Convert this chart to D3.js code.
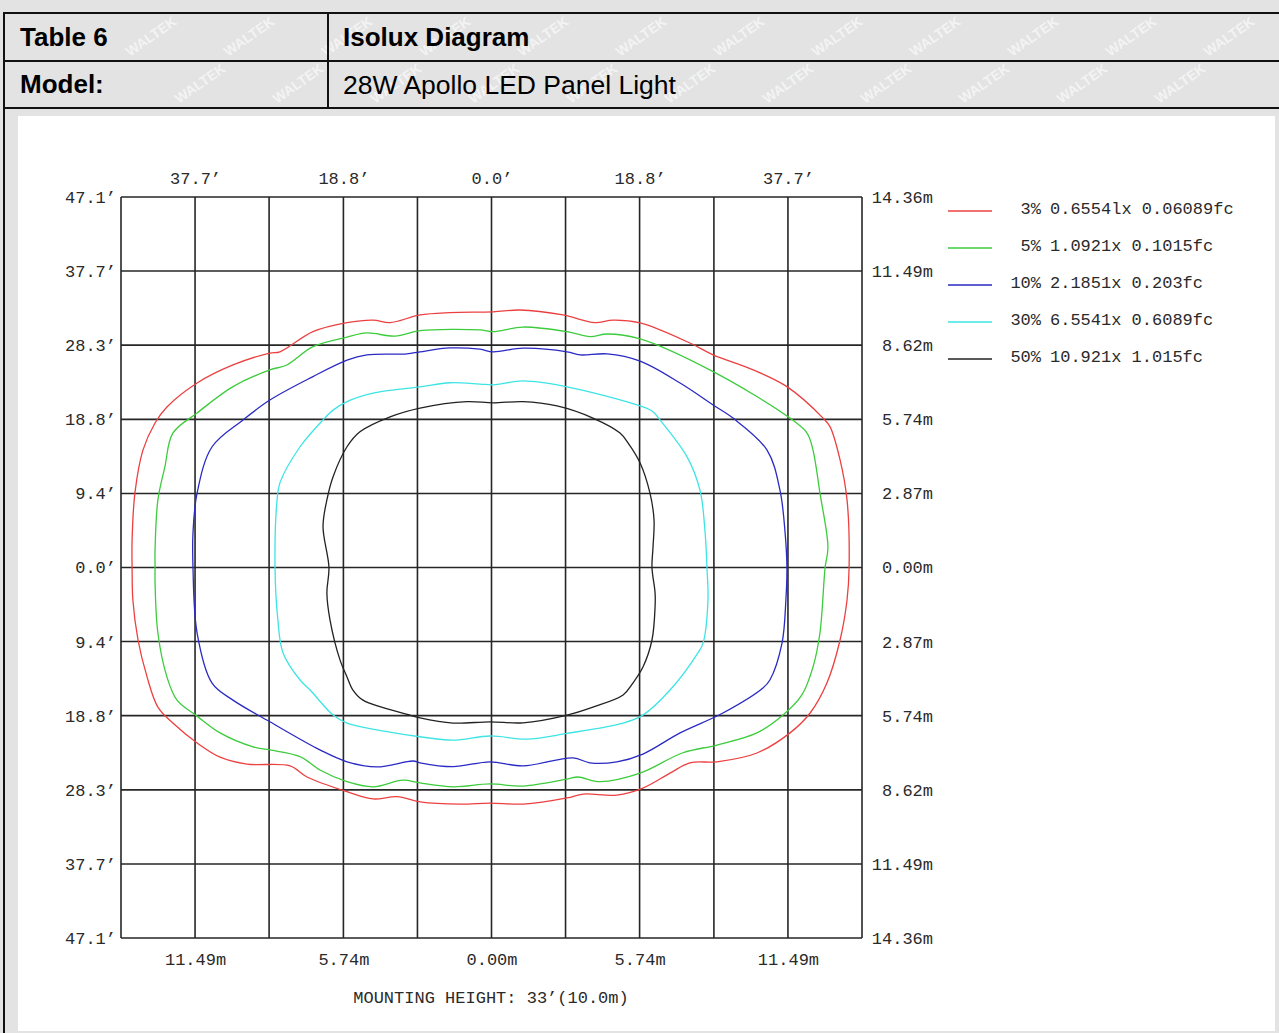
<!DOCTYPE html>
<html>
<head>
<meta charset="utf-8">
<script src="https://cdn.jsdelivr.net/npm/d3@7"></script>
<style>
  body { margin: 0; background: #e3e3e3; }
  svg { display: block; }
</style>
</head>
<body>
<script>
// ---- data (metres, origin under the luminaire, y up) ----
var metreTicks = [-14.36, -11.49, -8.62, -5.74, -2.87, 0, 2.87, 5.74, 8.62, 11.49, 14.36];
var footLabels = ["47.1’", "37.7’", "28.3’", "18.8’", "9.4’", "0.0’", "9.4’", "18.8’", "28.3’", "37.7’", "47.1’"];
var metreLabels = ["14.36m", "11.49m", "8.62m", "5.74m", "2.87m", "0.00m", "2.87m", "5.74m", "8.62m", "11.49m", "14.36m"];
var topTicks = [-11.49, -5.74, 0, 5.74, 11.49];
var topLabels = ["37.7’", "18.8’", "0.0’", "18.8’", "37.7’"];
var bottomLabels = ["11.49m", "5.74m", "0.00m", "5.74m", "11.49m"];

var legendPct = ["3%", "5%", "10%", "30%", "50%"];
var legendLx = ["0.6554lx", "1.0921x", "2.1851x", "6.5541x", "10.921x"];
var legendFc = ["0.06089fc", "0.1015fc", "0.203fc", "0.6089fc", "1.015fc"];
var colours = ["#ec4040", "#3ccc3c", "#2a2ac4", "#3ee4e4", "#222222"];

var contour3 = [[-13.93,0],[-13.93,1.07],[-13.82,2.89],[-13.51,4.55],[-13.04,5.60],[-12.58,6.22],[-11.41,7.15],[-10.02,7.85],[-8.59,8.31],[-8.20,8.36],[-6.92,9.14],[-5.60,9.49],[-4.59,9.59],[-3.93,9.49],[-2.77,9.79],[-1.61,9.88],[0.06,9.91],[1.10,9.98],[2.77,9.79],[4.01,9.49],[4.71,9.59],[5.76,9.48],[7.69,8.70],[8.59,8.24],[10.14,7.66],[11.45,7.01],[12.85,5.79],[13.12,5.46],[13.51,4.17],[13.78,2.62],[13.86,0],[13.78,-1.26],[13.51,-2.81],[13.00,-4.48],[12.35,-5.64],[11.57,-6.41],[10.29,-7.19],[8.74,-7.53],[7.69,-7.57],[6.92,-7.97],[5.87,-8.55],[4.86,-8.82],[3.55,-8.78],[2.93,-8.93],[1.22,-9.17],[-0.06,-9.13],[-1.22,-9.17],[-2.77,-9.08],[-3.66,-8.88],[-4.59,-8.97],[-5.60,-8.69],[-7.15,-8.12],[-7.81,-7.69],[-9.48,-7.62],[-10.52,-7.35],[-11.41,-6.80],[-12.35,-6.03],[-12.93,-5.41],[-13.35,-4.24],[-13.70,-2.81],[-13.90,-1.26]];
var contour5 = [[-13.04,0],[-13.04,0.68],[-12.93,2.62],[-12.66,3.90],[-12.35,5.21],[-11.41,5.99],[-10.02,7.01],[-8.59,7.66],[-7.93,7.85],[-6.92,8.56],[-5.60,8.93],[-4.83,9.09],[-3.74,8.97],[-2.77,9.18],[-0.45,9.21],[0.06,9.14],[1.22,9.32],[2.93,9.14],[3.82,8.95],[4.48,9.05],[5.76,8.86],[8.59,7.59],[11.57,5.79],[12.23,5.21],[12.46,4.55],[12.73,2.89],[13.04,0.79],[12.93,0],[12.73,-2.54],[12.46,-3.86],[12.03,-4.94],[11.30,-5.72],[10.29,-6.41],[8.74,-6.88],[7.42,-7.18],[5.76,-7.97],[4.21,-8.30],[3.35,-8.12],[2.93,-8.20],[1.22,-8.47],[-0.06,-8.39],[-1.49,-8.50],[-2.77,-8.35],[-3.43,-8.24],[-4.59,-8.50],[-5.60,-8.30],[-6.65,-7.85],[-7.42,-7.33],[-8.59,-7.07],[-9.24,-6.95],[-10.52,-6.41],[-11.41,-5.76],[-12.19,-5.14],[-12.58,-4.24],[-12.93,-2.54],[-13.04,-0.60]];
var contour10 = [[-11.57,0],[-11.57,1.34],[-11.41,2.89],[-10.83,4.68],[-9.63,5.72],[-8.59,6.49],[-6.92,7.40],[-5.60,8.04],[-4.83,8.24],[-3.28,8.28],[-2.77,8.36],[-1.61,8.51],[-0.45,8.46],[0.06,8.36],[1.22,8.50],[2.93,8.36],[3.43,8.24],[4.48,8.28],[5.76,8.00],[7.31,7.15],[8.59,6.30],[9.36,5.79],[10.68,4.55],[11.18,3.00],[11.38,1.34],[11.45,0],[11.41,-1.26],[11.26,-2.93],[10.79,-4.36],[10.52,-4.67],[8.97,-5.64],[7.31,-6.41],[5.87,-7.23],[4.86,-7.53],[3.82,-7.57],[3.16,-7.38],[1.22,-7.69],[-0.06,-7.53],[-1.49,-7.72],[-2.77,-7.57],[-3.04,-7.50],[-4.44,-7.73],[-5.60,-7.53],[-6.65,-7.07],[-8.59,-5.98],[-10.02,-5.14],[-10.83,-4.48],[-11.41,-2.54]];
var contour30 = [[-8.39,0],[-8.31,2.62],[-8.20,3.28],[-7.42,4.68],[-6.53,5.72],[-6.14,6.10],[-5.60,6.43],[-4.59,6.76],[-2.77,7.00],[-1.61,7.16],[-0.45,7.11],[0.06,7.08],[1.22,7.23],[2.93,7.00],[5.76,6.26],[6.26,6.04],[6.53,5.72],[7.58,4.29],[8.08,3.00],[8.28,1.34],[8.35,0],[8.39,-1.26],[8.20,-2.93],[8.00,-3.31],[6.92,-4.75],[5.87,-5.72],[5.10,-6.03],[2.93,-6.43],[1.38,-6.65],[-0.06,-6.53],[-1.49,-6.69],[-2.77,-6.56],[-4.05,-6.36],[-5.60,-6.03],[-6.14,-5.72],[-7.03,-4.75],[-7.42,-4.36],[-8.08,-3.31],[-8.28,-2.03]];
var contour50 = [[-6.30,0],[-6.53,1.58],[-6.38,2.62],[-6.14,3.52],[-5.60,4.68],[-5.10,5.26],[-3.93,5.84],[-2.77,6.18],[-0.95,6.43],[0.06,6.38],[1.22,6.43],[2.54,6.26],[3.93,5.79],[4.98,5.21],[5.29,4.83],[5.76,4.05],[6.14,2.89],[6.30,1.84],[6.26,0.79],[6.22,0],[6.34,-0.99],[6.34,-1.53],[6.22,-2.81],[5.87,-3.86],[5.48,-4.48],[5.10,-4.94],[3.93,-5.41],[2.93,-5.72],[1.22,-6.02],[-0.06,-5.98],[-1.49,-6.03],[-2.77,-5.83],[-3.16,-5.72],[-4.98,-5.14],[-5.37,-4.75],[-5.60,-4.24],[-5.87,-3.59],[-6.26,-2.03],[-6.38,-0.99]];
var contours = [contour3, contour5, contour10, contour30, contour50];

var W = 1279, H = 1033;
var mono = "'Liberation Mono', 'DejaVu Sans Mono', monospace";
var txtCol = "#2a2a2a";

var svg = d3.select("body").append("svg").attr("width", W).attr("height", H);
svg.append("rect").attr("width", W).attr("height", H).attr("fill", "#e3e3e3");

// faint watermark inside the two grey header rows
var wm = svg.append("g").attr("fill", "#ffffff").attr("fill-opacity", 0.6)
  .attr("font-family", "'Liberation Sans', Arial, sans-serif").attr("font-weight", "bold").attr("font-size", 14);
[57, 104].forEach(function (wy, r) {
  for (var wx = 130 + r * 49; wx + 55 < W - 4; wx += 98) {
    wm.append("text").attr("transform", "translate(" + wx + "," + wy + ") rotate(-35)").text("WALTEK");
  }
});

// white page area under the header
svg.append("rect").attr("x", 18).attr("y", 116).attr("width", 1257).attr("height", 915).attr("fill", "#ffffff");

// header table
var tl = svg.append("g").attr("stroke", "#111").attr("stroke-width", 2);
[13, 61, 108].forEach(function (yy) {
  tl.append("line").attr("x1", 3).attr("x2", W).attr("y1", yy).attr("y2", yy);
});
tl.append("line").attr("x1", 4).attr("x2", 4).attr("y1", 12).attr("y2", H);
tl.append("line").attr("x1", 328).attr("x2", 328).attr("y1", 13).attr("y2", 108);

var hd = svg.append("g").attr("font-family", "'Liberation Sans', Arial, sans-serif").attr("font-size", 26.5).attr("fill", "#000");
hd.append("text").attr("x", 20).attr("y", 46).attr("font-weight", "bold").attr("font-size", 26).text("Table 6");
hd.append("text").attr("x", 343).attr("y", 46).attr("font-weight", "bold").attr("font-size", 26).text("Isolux Diagram");
hd.append("text").attr("x", 20).attr("y", 93).attr("font-weight", "bold").attr("font-size", 26).text("Model:");
hd.append("text").attr("x", 343).attr("y", 94).text("28W Apollo LED Panel Light");

// ---- plot ----
var x = d3.scaleLinear().domain([-14.36, 14.36]).range([121, 862]);
var y = d3.scaleLinear().domain([-14.36, 14.36]).range([938, 197]);

var grid = svg.append("g").attr("stroke", "#262626").attr("stroke-width", 1.6);
metreTicks.forEach(function (t) {
  grid.append("line").attr("x1", x(t)).attr("x2", x(t)).attr("y1", y(-14.36)).attr("y2", y(14.36));
  grid.append("line").attr("y1", y(t)).attr("y2", y(t)).attr("x1", x(-14.36)).attr("x2", x(14.36));
});

var line = d3.line()
  .x(function (d) { return x(d[0]); })
  .y(function (d) { return y(d[1]); })
  .curve(d3.curveCatmullRomClosed.alpha(0.5));

svg.append("g").selectAll("path").data(contours).join("path")
  .attr("d", line)
  .attr("fill", "none")
  .attr("stroke", function (d, i) { return colours[i]; })
  .attr("stroke-width", 1.3);

function styleAxis(g) {
  g.select(".domain").remove();
  g.attr("font-family", mono).attr("font-size", 17);
  g.selectAll("text").attr("fill", txtCol);
}

svg.append("g").attr("transform", "translate(0," + y(14.36) + ")")
  .call(d3.axisTop(x).tickValues(topTicks).tickSize(0).tickPadding(13)
    .tickFormat(function (d, i) { return topLabels[i]; }))
  .call(styleAxis);

svg.append("g").attr("transform", "translate(0," + y(-14.36) + ")")
  .call(d3.axisBottom(x).tickValues(topTicks).tickSize(0).tickPadding(15)
    .tickFormat(function (d, i) { return bottomLabels[i]; }))
  .call(styleAxis);

svg.append("g").attr("transform", "translate(" + x(-14.36) + ",0)")
  .call(d3.axisLeft(y).tickValues(metreTicks).tickSize(0).tickPadding(5)
    .tickFormat(function (d, i) { return footLabels[metreTicks.length - 1 - i]; }))
  .call(styleAxis);

var rightAxis = svg.append("g").attr("transform", "translate(" + x(14.36) + ",0)")
  .call(d3.axisRight(y).tickValues(metreTicks).tickSize(0)
    .tickFormat(function (d, i) { return metreLabels[metreTicks.length - 1 - i]; }))
  .call(styleAxis);
rightAxis.selectAll("text").attr("text-anchor", "end").attr("x", 71);

// legend
var lg = svg.append("g").attr("font-family", mono).attr("font-size", 17).attr("fill", txtCol);
legendPct.forEach(function (p, i) {
  var ly = 211 + i * 37;
  lg.append("line").attr("x1", 948).attr("x2", 992).attr("y1", ly).attr("y2", ly)
    .attr("stroke", colours[i]).attr("stroke-width", 1.4);
  lg.append("text").attr("x", 1041).attr("y", ly + 3).attr("text-anchor", "end").text(p);
  lg.append("text").attr("x", 1050).attr("y", ly + 3).text(legendLx[i] + " " + legendFc[i]);
});

svg.append("text").attr("x", 491).attr("y", 1003).attr("text-anchor", "middle")
  .attr("font-family", mono).attr("font-size", 17).attr("fill", txtCol)
  .text("MOUNTING HEIGHT: 33’(10.0m)");
</script>
</body>
</html>
